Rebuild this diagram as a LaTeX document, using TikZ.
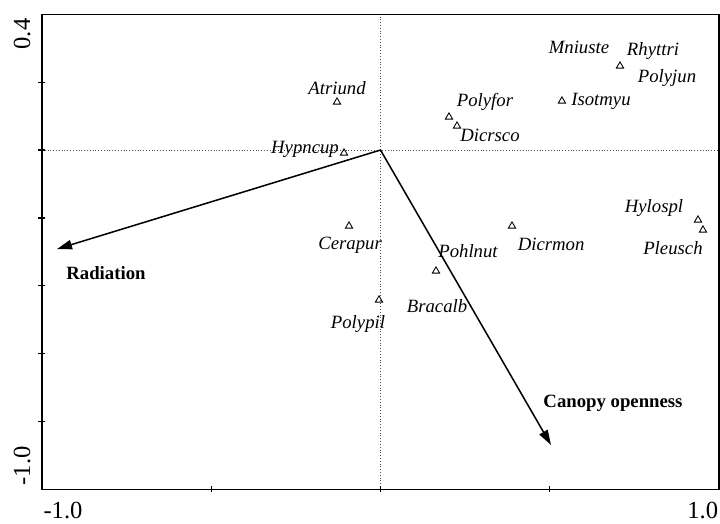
\documentclass[tikz,border=0pt]{standalone}
\usepackage{fontspec}
\setmainfont{Liberation Serif}
\usetikzlibrary{arrows.meta,shapes.geometric}
\tikzset{
    species/.style={regular polygon, regular polygon sides=3, draw, line width=0.75pt,
        inner sep=0pt, minimum size=2.5mm, node contents={}},
    sp/.style={font=\fontsize{16}{18}\selectfont\itshape, inner sep=0pt},
    env/.style={-{Triangle[length=4.5mm,width=2.8mm]}, line width=1.3pt},
    envlabel/.style={font=\fontsize{16}{18}\selectfont\bfseries, inner sep=0pt},
    ticklabel/.style={font=\fontsize{21}{23}\selectfont, inner sep=0pt},
    zeroline/.style={dotted, line width=0.4pt, black!70}
}

\begin{document}
\begin{tikzpicture}[x=10.155cm, y=10.18cm]

    \useasboundingbox (-1.1241,-1.0993) rectangle (1.0030,0.4421);

    % zero lines
    \draw[zeroline] (-1,0) -- (1,0);
    \draw[zeroline] (0,-1) -- (0,0.4);

    % frame and ticks
    \draw[line width=1.1pt] (-1,-1) rectangle (1,0.4);
    \foreach \y in {0.2,0,-0.2,-0.4,-0.6,-0.8}
        \draw[line width=1.1pt] (-1.011,\y) -- (-0.991,\y);
    \foreach \x in {-0.5,0,0.5}
        \draw[line width=1.1pt] (\x,-1.009) -- (\x,-0.991);

    % axis labels
    \node[ticklabel, rotate=90] (ytop) at (-1.059,0.342) {0.4};
    \node[ticklabel, rotate=90] (ybot) at (-1.059,-0.931) {-1.0};
    \node[ticklabel] (xleft) at (-0.938,-1.061) {-1.0};
    \node[ticklabel] (xright) at (0.952,-1.061) {1.0};

    % environmental variables
    \coordinate (o) at (0,0);
    \coordinate (rad) at (-0.9557,-0.2918);
    \coordinate (can) at (0.5037,-0.8694);
    \draw[env] (o) -- (rad);
    \draw[env] (o) -- (can);
    \node[envlabel] (radlab) at (-0.811,-0.3625) {Radiation};
    \node[envlabel] (canlab) at (0.6869,-0.7457) {Canopy openness};

    % species
    \node (atri) at (-0.1285,0.1415) [species];
    \node (hypn) at (-0.1078,-0.0088) [species];
    \node (cera) at (-0.093,-0.224) [species];
    \node (ppil) at (-0.0044,-0.442) [species];
    \node (brac) at (0.164,-0.3566) [species];
    \node (dmon) at (0.3885,-0.224) [species];
    \node (pfor) at (0.2024,0.0973) [species];
    \node (dsco) at (0.226,0.0707) [species];
    \node (isot) at (0.536,0.1444) [species];
    \node (rhyt) at (0.7075,0.2476) [species];
    \node (hylo) at (0.938,-0.2063) [species];
    \node (pleu) at (0.9527,-0.2358) [species];

    \node[sp] (atrilab) at (-0.1285,0.1827) {Atriund};
    \node[sp] (hypnlab) at (-0.223,0.003) {Hypncup};
    \node[sp] (ceralab) at (-0.090,-0.280) {Cerapur};
    \node[sp] (ppillab) at (-0.0665,-0.513) {Polypil};
    \node[sp] (braclab) at (0.167,-0.460) {Bracalb};
    \node[sp] (pohllab) at (0.2585,-0.2977) {Pohlnut};
    \node[sp] (dmonlab) at (0.504,-0.277) {Dicrmon};
    \node[sp] (pforlab) at (0.3087,0.1415) {Polyfor};
    \node[sp] (dscolab) at (0.3235,0.0442) {Dicrsco};
    \node[sp] (isotlab) at (0.6514,0.1444) {Isotmyu};
    \node[sp] (mniulab) at (0.5864,0.3036) {Mniuste};
    \node[sp] (rhytlab) at (0.805,0.2918) {Rhyttri};
    \node[sp] (pjunlab) at (0.8464,0.2122) {Polyjun};
    \node[sp] (hylolab) at (0.808,-0.171) {Hylospl};
    \node[sp] (pleulab) at (0.864,-0.2888) {Pleusch};

\end{tikzpicture}
\end{document}
